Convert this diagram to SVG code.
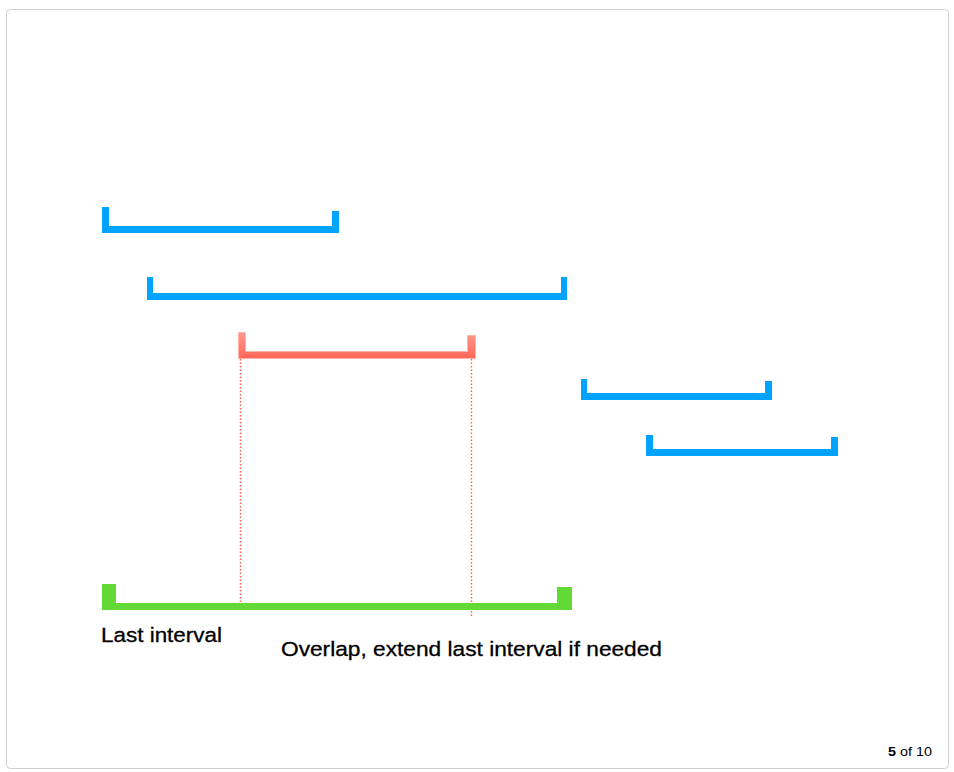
<svg xmlns="http://www.w3.org/2000/svg" width="954" height="772" viewBox="0 0 954 772">
<defs>
<style>
.blue{fill:#00a3ff}
.green{fill:#63d935}
.red{fill:url(#redg);stroke:#ffb3aa;stroke-width:1}
.dot{stroke:#ff5a4a;stroke-width:1.4;stroke-dasharray:1.5 2;fill:none}
.lbl{font-family:"Liberation Sans",Arial,sans-serif;fill:#000}
</style>
<linearGradient id="redg" x1="0" y1="0" x2="0" y2="1">
<stop offset="0" stop-color="#ff9a90"/>
<stop offset="1" stop-color="#ff6656"/>
</linearGradient>
</defs>
<rect x="6.5" y="9.5" width="942" height="759" rx="4" fill="#fff" stroke="#cfcfcf"/>
<g id="connectors">
<line class="dot" x1="240.5" y1="359" x2="240.5" y2="603"/>
<line class="dot" x1="471.5" y1="359" x2="471.5" y2="618"/>
</g>
<g id="interval1"><path class="blue" d="M102 207H109V226H332V211H339V233H102Z"/></g>
<g id="interval2"><path class="blue" d="M147 277H153V293H561V277H567V300H147Z"/></g>
<g id="interval3"><path class="red" d="M238.5 332.5H245.5V351.5H467.5V335.5H475.5V358.5H238.5Z"/></g>
<g id="interval4"><path class="blue" d="M581 379H587V393H765V381H772V400H581Z"/></g>
<g id="interval5"><path class="blue" d="M646 435H653V449H831V437H838V456H646Z"/></g>
<g id="last"><path class="green" d="M102 584H116V603H557V587H572V610H102Z"/></g>
<g id="labels">
<text class="lbl" x="101" y="642" font-size="20.5" stroke="#000" stroke-width="0.3" textLength="121" lengthAdjust="spacingAndGlyphs">Last interval</text>
<text class="lbl" x="281" y="656" font-size="20.5" stroke="#000" stroke-width="0.3" textLength="381" lengthAdjust="spacingAndGlyphs">Overlap, extend last interval if needed</text>
<text class="lbl" x="888" y="756" font-size="13.5" textLength="44" lengthAdjust="spacingAndGlyphs"><tspan font-weight="bold">5</tspan> of 10</text>
</g>
</svg>
